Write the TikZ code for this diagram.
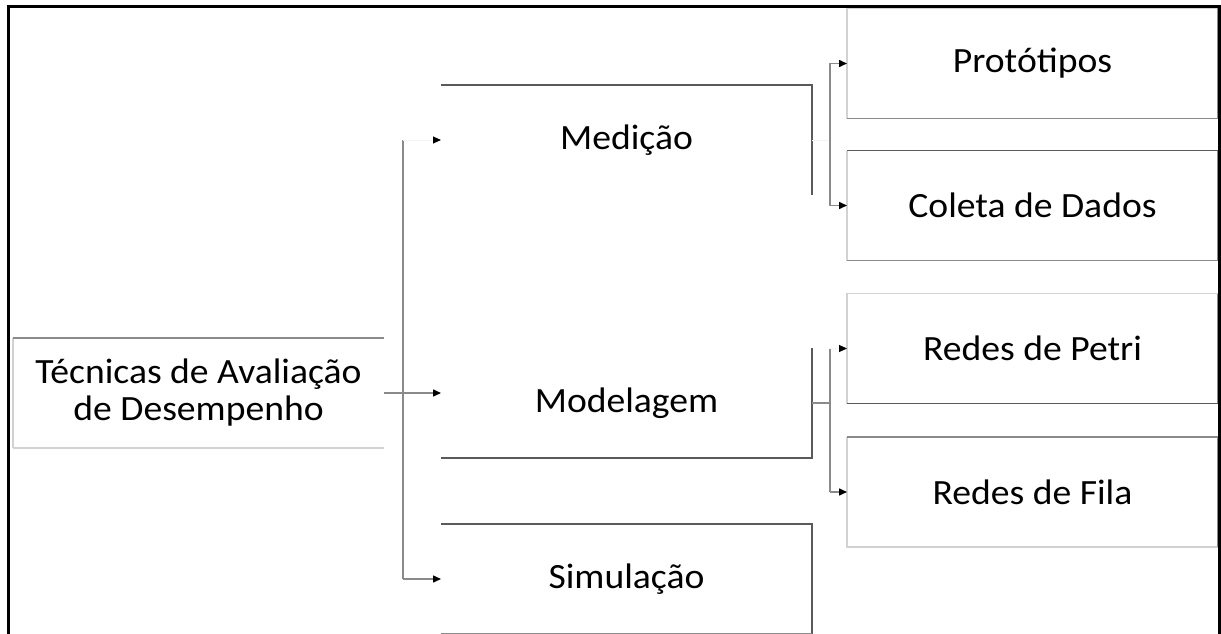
\documentclass[tikz,border=0pt]{standalone}
\usepackage{fontspec}
\setmainfont{Carlito}[FakeStretch=1.06]
\usetikzlibrary{arrows.meta}
\definecolor{dk}{HTML}{5A5A5A}
\definecolor{md}{HTML}{8A8A8A}
\definecolor{lt}{HTML}{D2D2D2}
\definecolor{fnt}{HTML}{F4F4F4}
\tikzset{
  box/.style={minimum width=371pt, minimum height=110pt, inner sep=0pt, outer sep=0pt,
    font=\fontsize{35.5}{42}\selectfont, text=black, align=center},
  sdk/.style={draw=dk, line width=1.6pt},
  smd/.style={draw=md, line width=1.4pt},
  slt/.style={draw=lt, line width=1.2pt},
  conn/.style={draw=md, line width=1.5pt},
  arr/.style={-{Triangle[length=8pt,width=7pt,color=black]}},
  faint/.style={draw=fnt, line width=1pt},
}
\begin{document}
\begin{tikzpicture}[x=1pt,y=-1pt]
\useasboundingbox (0,0) rectangle (1221,634);
\clip (0,0) rectangle (1221,634);
\fill[white] (0,0) rectangle (1221,634);
% nodes
\node[box] (tec) at (198.5,393) {Técnicas de Avaliação\\[-5pt]de Desempenho};
\node[box] (med) at (626.5,140) {Medição};
\node[box] (mod) at (626.5,403) {Modelagem};
\node[box] (sim) at (626.5,579) {Simulação};
\node[box] (pro) at (1032.5,63.5) {Protótipos};
\node[box] (col) at (1032.5,205.5) {Coleta de Dados};
\node[box] (pet) at (1032.5,348.5) {Redes de Petri};
\node[box] (fil) at (1032.5,492) {Redes de Fila};
% box sides
\draw[slt] (tec.south west) -- (tec.north west);
\draw[smd] (tec.north west) -- (tec.north east);
\draw[slt] (tec.south west) -- (tec.south east);
\draw[sdk] (med.north west) -- (med.north east) -- (med.south east);
\draw[sdk] (mod.north east) -- (mod.south east) -- (mod.south west);
\draw[sdk] (sim.north west) -- (sim.north east) -- (sim.south east);
\draw[smd] (sim.south west) -- (sim.south east);
\draw[slt] (pro.south west) -- (pro.north west) -- (pro.north east);
\draw[smd] (pro.north east) -- (pro.south east) -- (pro.south west);
\draw[slt] (col.north west) -- (col.south west);
\draw[sdk] (col.north west) -- (col.north east);
\draw[smd] (col.north east) -- (col.south east) -- (col.south west);
\draw[slt] (pet.south west) -- (pet.north west) -- (pet.north east);
\draw[smd] (pet.north east) -- (pet.south east);
\draw[sdk] (pet.south west) -- (pet.south east);
\draw[slt] (fil.north west) -- (fil.south west) -- (fil.south east);
\draw[smd] (fil.north west) -- (fil.north east) -- (fil.south east);
% connectors from Técnicas
\coordinate (b1) at (403,0);
\draw[conn] (tec.east) -- (b1 |- tec.east);
\draw[conn] (b1 |- med.west) -- (b1 |- sim.west);
\draw[faint,arr] (b1 |- med.west) -- (med.west);
\draw[conn,arr] (b1 |- tec.east) -- (mod.west |- tec.east);
\draw[conn,arr] (b1 |- sim.west) -- (sim.west);
% connectors from Medição
\coordinate (b2) at (830,0);
\draw[faint] (med.east) -- (b2 |- med.east);
\draw[conn,arr] (b2 |- col.west) -- (b2 |- pro.west) -- (pro.west);
\draw[conn,arr] (b2 |- pro.west) -- (b2 |- col.west) -- (col.west);
% connectors from Modelagem
\draw[conn] (mod.east) -- (b2 |- mod.east);
\draw[conn] (b2 |- pet.west) -- (b2 |- fil.west);
\draw[faint,arr] (b2 |- pet.west) -- (pet.west);
\draw[conn,arr] (b2 |- fil.west) -- (fil.west);
% outer frame
\draw[black, line width=3pt] (8,700) -- (8,7) -- (1219.5,7) -- (1219.5,700);
\end{tikzpicture}
\end{document}
